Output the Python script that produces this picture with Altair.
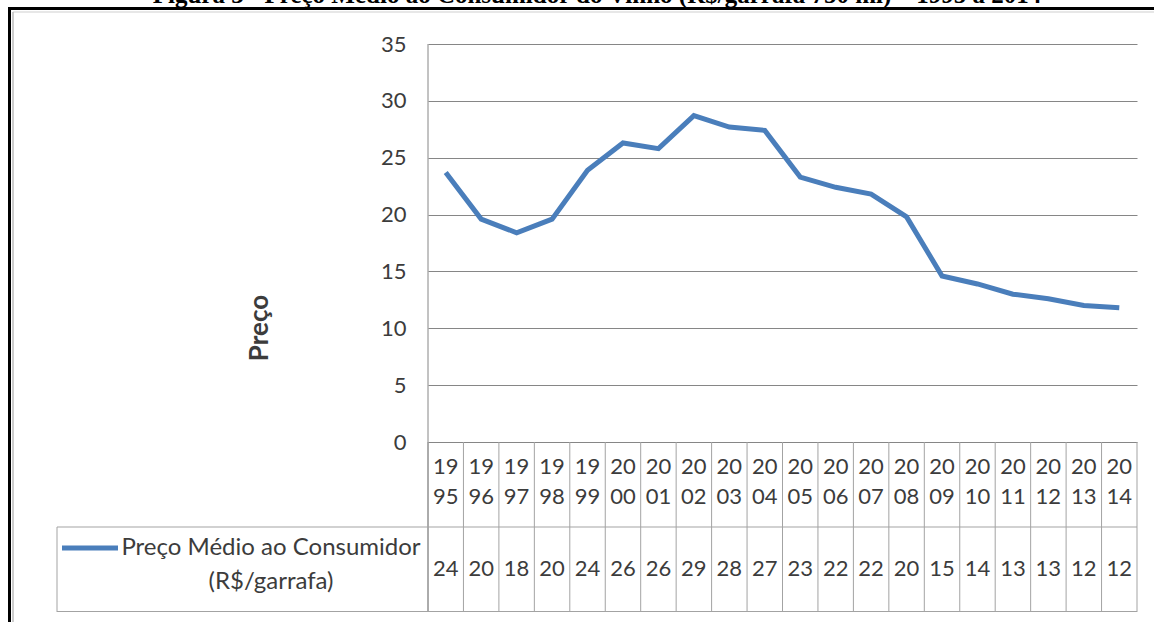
import altair as alt
import pandas as pd

# Preço médio ao consumidor do vinho (R$/garrafa 750 ml)
anos = [1995, 1996, 1997, 1998, 1999, 2000, 2001, 2002, 2003, 2004,
        2005, 2006, 2007, 2008, 2009, 2010, 2011, 2012, 2013, 2014]
precos = [23.7, 19.6, 18.4, 19.6, 23.9, 26.3, 25.8, 28.7, 27.7, 27.4,
          23.3, 22.4, 21.8, 19.8, 14.6, 13.9, 13.0, 12.6, 12.0, 11.8]
ticks_y = [0, 5, 10, 15, 20, 25, 30, 35]

titulo = "Figura 3 - Preço Médio ao Consumidor do Vinho (R$/garrafa 750 ml) – 1995 a 2014"
serie_l1 = "Preço Médio ao Consumidor"
serie_l2 = "(R$/garrafa)"

FONTE = "Lato"
TEXTO = "#3c3c3c"
AZUL = "#4a7ebb"
GRADE = "#868686"
TABELA = "#a3a3a3"

W, H = 709, 568          # plot area + data table below it
PLOT_H = 398             # height of the line plot part
ROW1 = 483               # end of the year row
Y_MAX = 35
Y_MIN = -(H - PLOT_H) / PLOT_H * Y_MAX   # table occupies the space below zero

df = pd.DataFrame({"ano": anos, "preco": precos})
df["sec"] = [str(a)[:2] for a in anos]
df["dec"] = [str(a)[2:] for a in anos]
bordas = pd.DataFrame({"borda": [a - 0.5 for a in anos] + [anos[-1] + 0.5]})
um = pd.DataFrame({"k": [0]})

xs = alt.Scale(domain=[anos[0] - 0.5, anos[-1] + 0.5], nice=False, zero=False)
ys = alt.Scale(domain=[Y_MIN, Y_MAX], nice=False, zero=False)


def xa(field):
    return alt.X(field, scale=xs, axis=None)


base = alt.Chart(df)

linha = base.mark_line(color=AZUL, strokeWidth=5).encode(
    x=xa("ano:Q"),
    y=alt.Y(
        "preco:Q",
        scale=ys,
        axis=alt.Axis(
            values=ticks_y, grid=True, gridColor=GRADE, gridWidth=1,
            domain=False, ticks=False, labelFontSize=22, labelFont=FONTE,
            labelColor=TEXTO, labelPadding=22, title=None,
        ),
    ),
)

# vertical cell borders of the data table
cols = alt.Chart(bordas).mark_rule(color=TABELA, strokeWidth=1).encode(
    x=xa("borda:Q"), y=alt.value(PLOT_H), y2=alt.value(H),
)

eixo = alt.Chart(um).mark_rule(color=GRADE, strokeWidth=1).encode(
    x=alt.value(0), y=alt.value(0), y2=alt.value(H)
)
h1 = alt.Chart(um).mark_rule(color=TABELA, strokeWidth=1).encode(
    x=alt.value(-371), x2=alt.value(W), y=alt.value(ROW1)
)
h2 = alt.Chart(um).mark_rule(color=TABELA, strokeWidth=1).encode(
    x=alt.value(-371), x2=alt.value(W), y=alt.value(H - 0.5)
)
v0 = alt.Chart(um).mark_rule(color=TABELA, strokeWidth=1).encode(
    x=alt.value(-371), y=alt.value(ROW1), y2=alt.value(H)
)

txt = dict(font=FONTE, fontSize=22, color=TEXTO, align="center", baseline="middle")
sec = base.mark_text(**txt).encode(x=xa("ano:Q"), y=alt.value(423), text="sec:N")
dec = base.mark_text(**txt).encode(x=xa("ano:Q"), y=alt.value(453), text="dec:N")
vals = base.mark_text(**txt).encode(
    x=xa("ano:Q"), y=alt.value(525), text=alt.Text("preco:Q", format=".0f"),
)

ytit = alt.Chart(um).mark_text(
    font=FONTE, fontSize=26, fontWeight="bold", color=TEXTO, angle=270,
    align="center", baseline="middle",
).encode(x=alt.value(-168), y=alt.value(284), text=alt.value("Preço"))

leg_linha = alt.Chart(um).mark_rule(color=AZUL, strokeWidth=5).encode(
    x=alt.value(-366), x2=alt.value(-310), y=alt.value(504)
)
leg = dict(font=FONTE, fontSize=24, color=TEXTO, align="center", baseline="middle")
leg_t1 = alt.Chart(um).mark_text(**leg).encode(
    x=alt.value(-157), y=alt.value(504), text=alt.value(serie_l1)
)
leg_t2 = alt.Chart(um).mark_text(**leg).encode(
    x=alt.value(-157), y=alt.value(538), text=alt.value(serie_l2)
)

# page frame and figure caption
moldura_top = alt.Chart(um).mark_rule(color="#000000", strokeWidth=3).encode(
    x=alt.value(-420), x2=alt.value(726), y=alt.value(-35.5)
)
moldura_esq = alt.Chart(um).mark_rule(color="#000000", strokeWidth=3).encode(
    x=alt.value(-418.5), y=alt.value(-37), y2=alt.value(578)
)
moldura_in_top = alt.Chart(um).mark_rule(color="#cfcfcf", strokeWidth=1).encode(
    x=alt.value(-415), x2=alt.value(726), y=alt.value(-32)
)
moldura_in_esq = alt.Chart(um).mark_rule(color="#bdbdbd", strokeWidth=1.5).encode(
    x=alt.value(-415), y=alt.value(-32), y2=alt.value(578)
)
cap = alt.Chart(um).mark_text(
    font="Liberation Serif", fontSize=25, fontWeight="bold", color="#000000",
    align="center", baseline="alphabetic",
).encode(x=alt.value(169), y=alt.value(-41), text=alt.value(titulo))

chart = alt.layer(
    cols, eixo, h1, h2, v0, linha, sec, dec, vals, ytit, leg_linha, leg_t1, leg_t2,
    moldura_in_top, moldura_in_esq, moldura_top, moldura_esq, cap,
).properties(
    width=W, height=H, autosize="none",
    padding={"left": 428, "top": 44, "right": 17, "bottom": 10},
).configure(background="white").configure_view(strokeWidth=0)

chart.save("out.html", embed_options={"renderer": "svg", "actions": False})
